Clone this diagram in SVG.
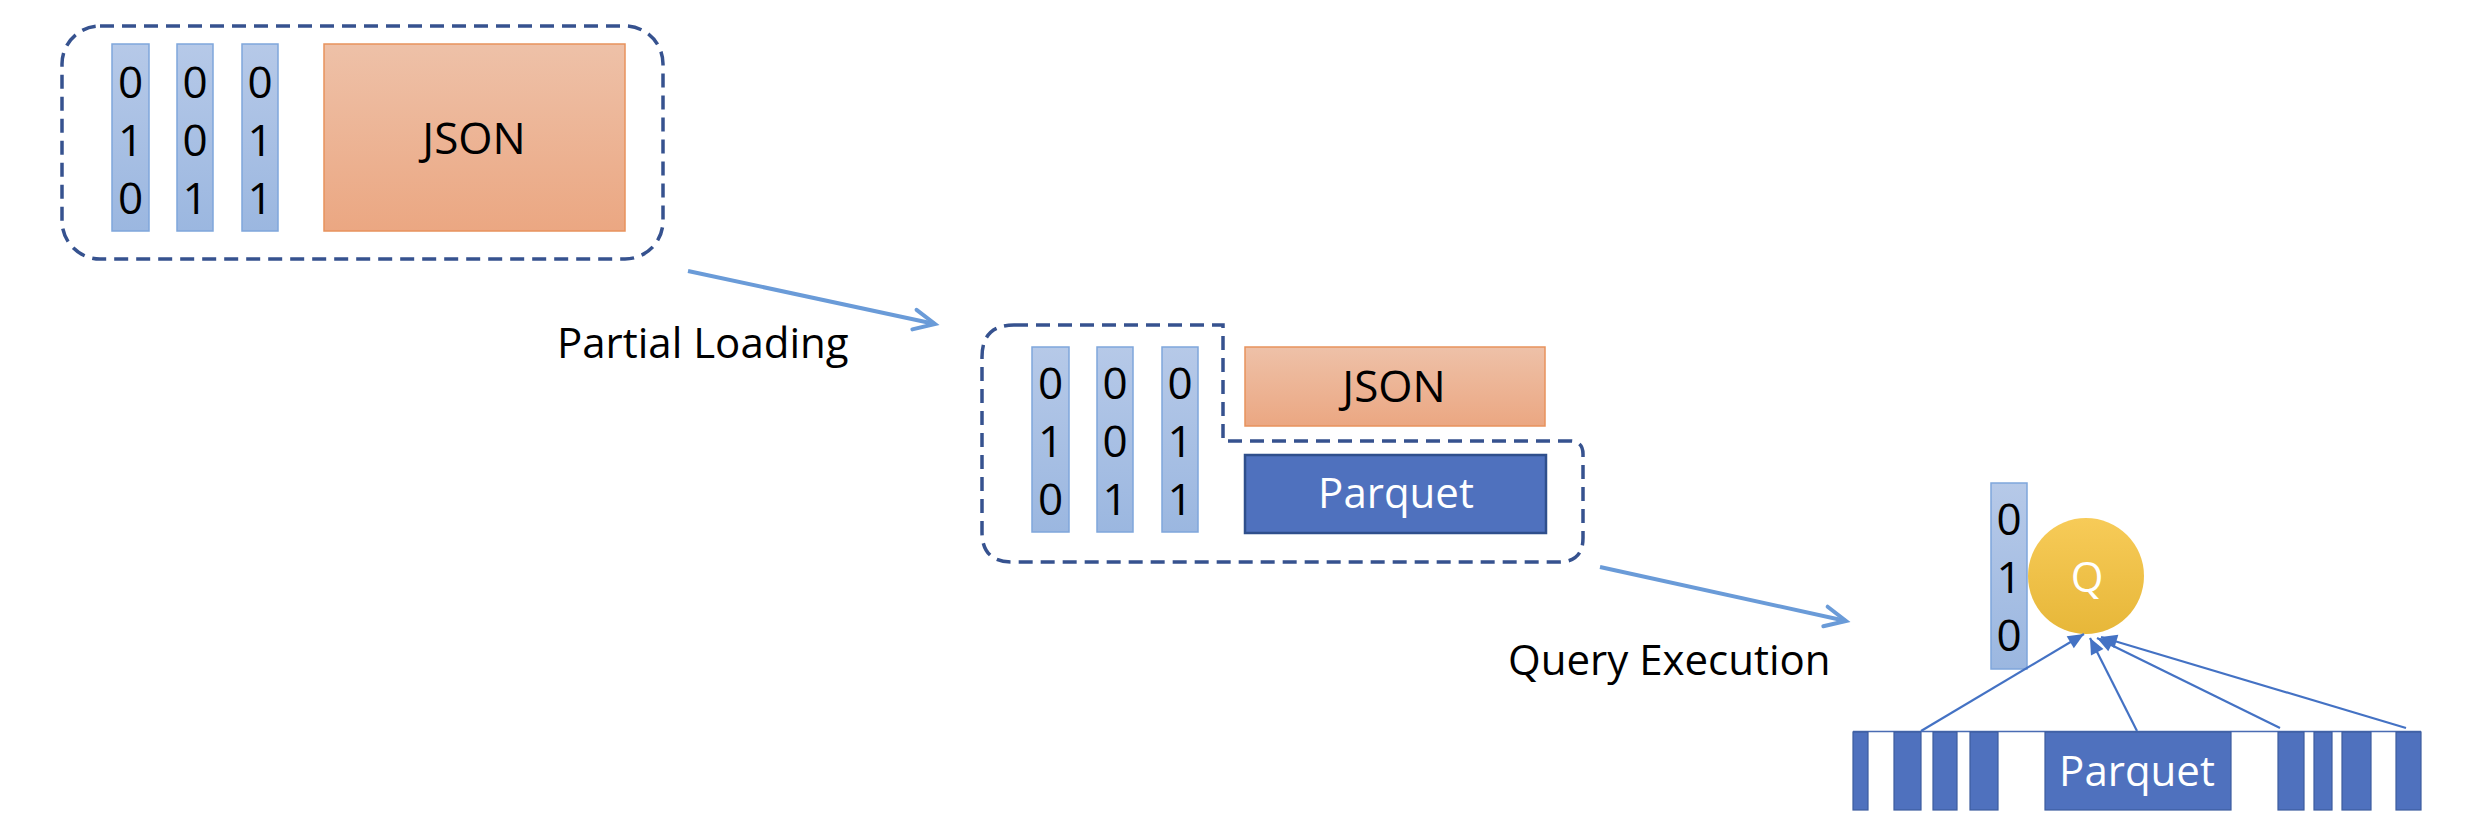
<svg xmlns="http://www.w3.org/2000/svg" width="2472" height="832" viewBox="0 0 2472 832">
<defs>
<linearGradient id="gBar" x1="0" y1="0" x2="0" y2="1"><stop offset="0" stop-color="#B6C9E8"/><stop offset="1" stop-color="#9BB7E0"/></linearGradient>
<linearGradient id="gJson" x1="0" y1="0" x2="0" y2="1"><stop offset="0" stop-color="#EEC1A8"/><stop offset="1" stop-color="#EBA782"/></linearGradient>
<linearGradient id="gQ" x1="0" y1="0" x2="0" y2="1"><stop offset="0" stop-color="#F7CB58"/><stop offset="1" stop-color="#E7B739"/></linearGradient>
<marker id="openArrow" markerUnits="userSpaceOnUse" markerWidth="30" markerHeight="30" refX="22" refY="11" orient="auto" overflow="visible">
<path d="M1,1 L22,11 L1,21" fill="none" stroke="#6A9BD8" stroke-width="4" stroke-linecap="round" stroke-linejoin="miter"/>
</marker>
<marker id="solidArrow" markerUnits="userSpaceOnUse" markerWidth="20" markerHeight="16" refX="16" refY="7" orient="auto" overflow="visible">
<path d="M0,0 L16,7 L0,14 Z" fill="#4472C4"/>
</marker>
</defs>
<style>
.dash{fill:none;stroke:#36528F;stroke-width:3.5;stroke-dasharray:14 8}
.bar{fill:url(#gBar);stroke:#7FA6DB;stroke-width:1.5}
.json{fill:url(#gJson);stroke:#E8925C;stroke-width:1.5}
.parq{fill:#4F71BE;stroke:#2F4F8C;stroke-width:2.5}
.seg{fill:#4F71BE;stroke:#3D5C9E;stroke-width:1.2}
.dig{font-family:"Open Sans",sans-serif;font-size:44px;fill:#000;text-anchor:middle}
.lbl{font-family:"Open Sans",sans-serif;font-size:42px;fill:#000}
.txt{font-family:"Open Sans",sans-serif;font-size:42px;text-anchor:middle}
.flow{fill:none;stroke:#6A9BD8;stroke-width:4;marker-end:url(#openArrow)}
.qline{fill:none;stroke:#4472C4;stroke-width:2.2;marker-end:url(#solidArrow)}
</style>

<g id="raw-data">
<rect class="dash" x="62" y="26" width="601" height="233" rx="38" ry="38"/>
<rect class="bar" x="112" y="44" width="37" height="187"/>
<rect class="bar" x="177" y="44" width="36" height="187"/>
<rect class="bar" x="242" y="44" width="36" height="187"/>
<text class="dig" x="130.5" y="98">0</text><text class="dig" x="130.5" y="156">1</text><text class="dig" x="130.5" y="214">0</text>
<text class="dig" x="195" y="98">0</text><text class="dig" x="195" y="156">0</text><text class="dig" x="195" y="214">1</text>
<text class="dig" x="260" y="98">0</text><text class="dig" x="260" y="156">1</text><text class="dig" x="260" y="214">1</text>
<rect class="json" x="324" y="44" width="301" height="187"/>
<text class="txt" x="474" y="154" fill="#000" style="font-size:44px">JSON</text>
</g>

<g id="partial-store">
<path class="dash" d="M1014,325 H1223 V441 H1570 Q1583,441 1583,454 V538 Q1583,562 1559,562 H1012 Q982,562 982,532 V357 Q982,325 1014,325 Z"/>
<rect class="bar" x="1032" y="347" width="37" height="185"/>
<rect class="bar" x="1097" y="347" width="36" height="185"/>
<rect class="bar" x="1162" y="347" width="36" height="185"/>
<text class="dig" x="1050.5" y="399">0</text><text class="dig" x="1050.5" y="457">1</text><text class="dig" x="1050.5" y="515">0</text>
<text class="dig" x="1115" y="399">0</text><text class="dig" x="1115" y="457">0</text><text class="dig" x="1115" y="515">1</text>
<text class="dig" x="1180" y="399">0</text><text class="dig" x="1180" y="457">1</text><text class="dig" x="1180" y="515">1</text>
<rect class="json" x="1245" y="347" width="300" height="79"/>
<text class="txt" x="1394" y="402" fill="#000" style="font-size:44px">JSON</text>
<rect class="parq" x="1245" y="455" width="301" height="78"/>
<text class="txt" x="1396" y="508" fill="#FFFFFF">Parquet</text>
</g>

<g id="query">
<rect class="bar" x="1991" y="483" width="36" height="186"/>
<text class="dig" x="2009" y="535">0</text><text class="dig" x="2009" y="593">1</text><text class="dig" x="2009" y="651">0</text>
<ellipse cx="2086" cy="576" rx="58" ry="58" fill="url(#gQ)"/>
<text class="txt" x="2087" y="592" fill="#FFFFFF">Q</text>
</g>

<g id="parquet-strip">
<line x1="1853" y1="731.5" x2="2421" y2="731.5" stroke="#4A6CB3" stroke-width="1.5"/>
<rect class="seg" x="1853" y="732" width="15" height="78"/>
<rect class="seg" x="1894" y="732" width="27" height="78"/>
<rect class="seg" x="1933" y="732" width="24" height="78"/>
<rect class="seg" x="1970" y="732" width="28" height="78"/>
<rect class="seg" x="2045" y="732" width="186" height="78"/>
<rect class="seg" x="2278" y="732" width="26" height="78"/>
<rect class="seg" x="2314" y="732" width="18" height="78"/>
<rect class="seg" x="2342" y="732" width="29" height="78"/>
<rect class="seg" x="2396" y="732" width="25" height="78"/>
<text class="txt" x="2137" y="786" fill="#FFFFFF">Parquet</text>
</g>

<g id="connectors">
<line class="flow" x1="688" y1="271" x2="935" y2="324"/>
<line class="flow" x1="1600" y1="567" x2="1846" y2="621"/>
<line class="qline" x1="1921" y1="731" x2="2084" y2="634"/>
<line class="qline" x1="2137" y1="731" x2="2090" y2="638"/>
<line class="qline" x1="2280" y1="728" x2="2097" y2="638"/>
<line class="qline" x1="2406" y1="728" x2="2101" y2="637"/>
</g>

<g id="labels">
<text class="lbl" x="557" y="358">Partial Loading</text>
<text class="lbl" x="1508" y="675">Query Execution</text>
</g>
</svg>
